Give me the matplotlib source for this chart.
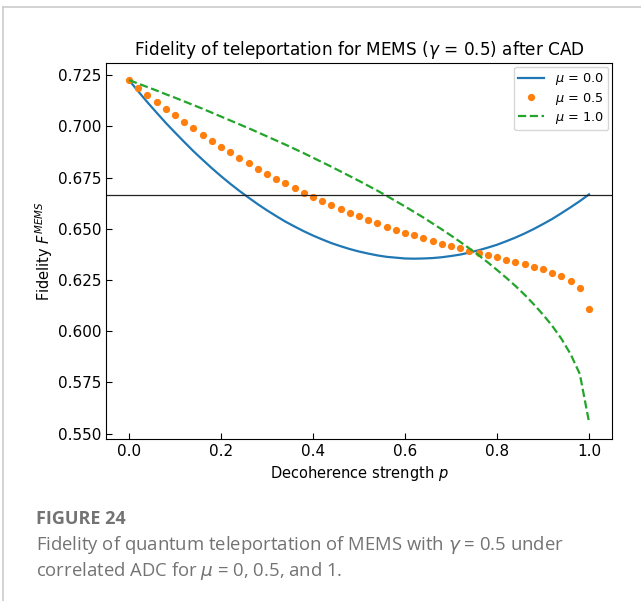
import numpy as np
import matplotlib
matplotlib.use("Agg")
import matplotlib.pyplot as plt
from matplotlib.lines import Line2D

# Decoherence strength grid (step 0.02)
p = np.round(np.arange(51) * 0.02, 2)

# mu = 0.0 (solid)
f_mu0 = [0.7226, 0.7171, 0.7118, 0.7067, 0.7017, 0.6970, 0.6924, 0.6879, 0.6837, 0.6796,
         0.6757, 0.6720, 0.6685, 0.6652, 0.6620, 0.6590, 0.6562, 0.6535, 0.6511, 0.6488,
         0.6467, 0.6448, 0.6430, 0.6415, 0.6401, 0.6389, 0.6379, 0.6370, 0.6363, 0.6359,
         0.6355, 0.6354, 0.6355, 0.6357, 0.6361, 0.6367, 0.6374, 0.6384, 0.6395, 0.6408,
         0.6422, 0.6439, 0.6457, 0.6477, 0.6499, 0.6523, 0.6548, 0.6576, 0.6605, 0.6635,
         0.6668]

# mu = 0.5 (dots)
f_mu05 = [0.7226, 0.7188, 0.7153, 0.7119, 0.7084, 0.7054, 0.7020, 0.6990, 0.6959, 0.6930,
          0.6901, 0.6873, 0.6846, 0.6820, 0.6794, 0.6769, 0.6745, 0.6722, 0.6700, 0.6677,
          0.6656, 0.6635, 0.6615, 0.6596, 0.6578, 0.6560, 0.6542, 0.6526, 0.6510, 0.6495,
          0.6481, 0.6468, 0.6455, 0.6442, 0.6428, 0.6416, 0.6404, 0.6393, 0.6383, 0.6372,
          0.6360, 0.6349, 0.6338, 0.6326, 0.6313, 0.6302, 0.6286, 0.6268, 0.6244, 0.6211,
          0.6110]

# mu = 1.0 (dashed)
f_mu1 = [0.7226, 0.7209, 0.7192, 0.7175, 0.7157, 0.7140, 0.7122, 0.7104, 0.7086, 0.7067,
         0.7048, 0.7029, 0.7010, 0.6991, 0.6971, 0.6951, 0.6931, 0.6911, 0.6890, 0.6869,
         0.6847, 0.6825, 0.6803, 0.6780, 0.6757, 0.6734, 0.6710, 0.6686, 0.6661, 0.6635,
         0.6609, 0.6582, 0.6555, 0.6526, 0.6497, 0.6467, 0.6436, 0.6404, 0.6371, 0.6336,
         0.6299, 0.6261, 0.6221, 0.6178, 0.6131, 0.6081, 0.6026, 0.5963, 0.5888, 0.5791,
         0.5557]

classical_limit = 2 / 3

fig = plt.figure(figsize=(6.41, 6.01), dpi=100)
ax = fig.add_axes([106 / 641, 1 - 439 / 601, (612 - 106) / 641, (439 - 63) / 601])

ax.plot(p, f_mu0, color="#1f77b4", lw=1.6, label=r"$\mu$ = 0.0")
ax.plot(p, f_mu05, "o", color="#ff7f0e", ms=4.2, label=r"$\mu$ = 0.5")
ax.plot(p, f_mu1, "--", color="#22a52a", lw=1.6, label=r"$\mu$ = 1.0")
ax.axhline(classical_limit, color="#222222", lw=0.9)

ax.set_yticks([0.550, 0.575, 0.600, 0.625, 0.650, 0.675, 0.700, 0.725])
ax.set_xticks([0.0, 0.2, 0.4, 0.6, 0.8, 1.0])
ax.tick_params(direction="in", labelsize=11, length=4)
ax.set_title(r"Fidelity of teleportation for MEMS ($\gamma$ = 0.5) after CAD", fontsize=12.2, pad=6)
ax.set_xlabel(r"Decoherence strength $p$", fontsize=10.5)
ax.set_ylabel(r"Fidelity $F^{MEMS}$", fontsize=10.5, labelpad=2)
ax.legend(loc="upper right", fontsize=9.3, labelspacing=0.25, borderpad=0.35,
          borderaxespad=0.3, handletextpad=0.8)

# outer frame lines (light gray)
fig.add_artist(Line2D([3 / 641, 1.0], [1 - 7 / 601, 1 - 7 / 601], color="#cccccc", lw=1.2))
fig.add_artist(Line2D([3 / 641, 3 / 641], [1 - 7 / 601, 0.0], color="#cccccc", lw=1.2))

cap_font = ["Open Sans", "DejaVu Sans"]
cap_color = "#737373"
fig.text(36 / 641, 1 - 519 / 601, "FIGURE 24", fontsize=13, fontweight="bold",
         color=cap_color, family=cap_font, va="center")
fig.text(36 / 641, 1 - 545 / 601, "Fidelity of quantum teleportation of MEMS with $\\gamma$ = 0.5 under",
         fontsize=13.3, color=cap_color, family=cap_font, va="center")
fig.text(36 / 641, 1 - 571 / 601, "correlated ADC for $\\mu$ = 0, 0.5, and 1.",
         fontsize=13.3, color=cap_color, family=cap_font, va="center")

fig.savefig("out.png", dpi=100, facecolor="white")
